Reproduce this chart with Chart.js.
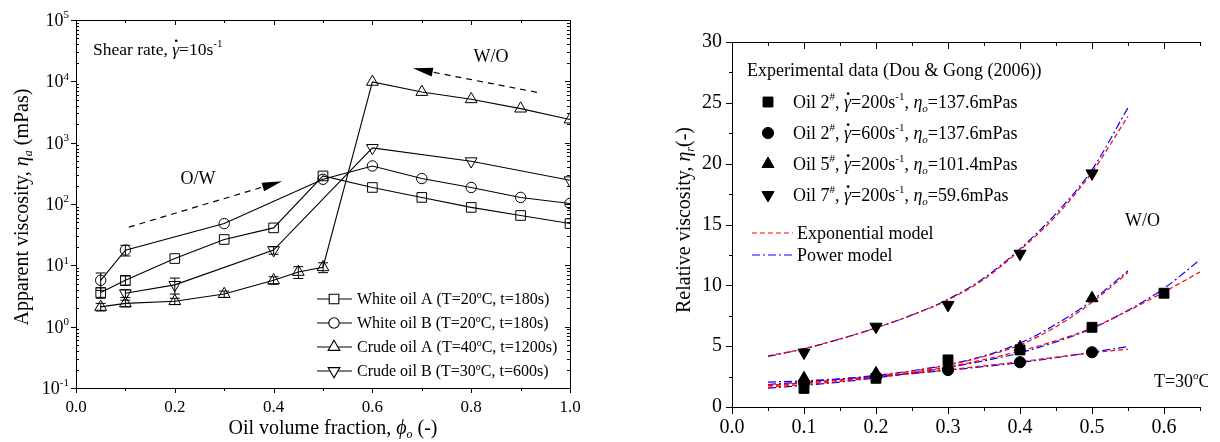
<!DOCTYPE html>
<html>
<head>
<meta charset="utf-8">
<script src="https://cdn.jsdelivr.net/npm/chart.js@4.4.1/dist/chart.umd.min.js"></script>
<style>
  html, body { margin: 0; padding: 0; background: #fff; }
  #wrap { position: relative; width: 1220px; height: 442px; overflow: hidden; }
  canvas { position: absolute; top: 0; }
</style>
</head>
<body>
<div id="wrap">
  <canvas id="leftChart" width="600" height="442" style="left:0"></canvas>
  <canvas id="rightChart" width="588" height="442" style="left:620px"></canvas>
</div>
<script>
// ---- left panel: apparent viscosity vs oil fraction (shear rate 10 1/s)
const phiWhiteA = [0.05, 0.1, 0.2, 0.3, 0.4, 0.5, 0.6, 0.7, 0.8, 0.9, 1.0];
const whiteA    = [3.6, 5.7, 12.9, 26.4, 40.8, 287, 186, 128, 88, 65, 48];
const errWhiteA = [0.7, 1.0, 0, 0, 0, 0, 0, 0, 0, 0, 0];

const phiWhiteB = [0.05, 0.1, 0.3, 0.5, 0.6, 0.7, 0.8, 0.9, 1.0];
const whiteB    = [5.7, 17.7, 48, 253, 417, 260, 186, 128, 102];
const errWhiteB = [1.8, 3.5, 0, 0, 0, 0, 0, 0, 0];

const phiCrudeA = [0.05, 0.1, 0.2, 0.3, 0.4, 0.45, 0.5, 0.6, 0.7, 0.8, 0.9, 1.0];
const crudeA    = [2.1, 2.4, 2.6, 3.4, 5.7, 7.8, 9.3, 9800, 6700, 5100, 3590, 2380];
const errCrudeA = [0.3, 0.3, 0.3, 0.4, 0.8, 1.7, 1.7, 0, 0, 0, 0, 0];

const phiCrudeB = [0.1, 0.2, 0.4, 0.6, 0.8, 1.0];
const crudeB    = [3.5, 4.8, 17.7, 820, 498, 244];
const errCrudeB = [0.5, 1.4, 2.5, 0, 0, 0];

const leftDecades = [0.1, 1, 10, 100, 1000, 10000, 100000];
const leftXMinor = [0.1, 0.3, 0.5, 0.7, 0.9];

// ---- right panel: relative viscosity, data + model fits
const phiOil2a = [0.1, 0.2, 0.3, 0.4, 0.5, 0.6];
const oil2_200 = [1.53, 2.36, 3.87, 4.69, 6.55, 9.35];
const phiOther = [0.1, 0.2, 0.3, 0.4, 0.5];
const oil2_600 = [2.0, 2.49, 3.04, 3.68, 4.5];
const oil5_200 = [2.36, 2.76, 3.4, 4.9, 8.94];
const oil7_200 = [4.47, 6.6, 8.39, 12.6, 19.2];

const phiFit   = [0.05, 0.1, 0.15, 0.2, 0.25, 0.3, 0.35, 0.4, 0.45, 0.5, 0.55];
const phiFitSq = [0.05, 0.1, 0.15, 0.2, 0.25, 0.3, 0.35, 0.4, 0.45, 0.5, 0.55, 0.6, 0.65];
const oil7Exp = [4.2, 4.8, 5.6, 6.5, 7.55, 8.8, 10.5, 12.9, 15.7, 19.3, 23.9];
const oil7Pow = [4.15, 4.78, 5.58, 6.5, 7.57, 8.85, 10.6, 13.0, 15.9, 19.5, 24.6];
const oil5Exp = [1.75, 1.98, 2.25, 2.55, 2.95, 3.45, 4.15, 5.1, 6.6, 8.6, 11.05];
const oil5Pow = [1.85, 2.05, 2.3, 2.6, 2.98, 3.48, 4.2, 5.25, 6.8, 8.75, 11.2];
const oil2bExp = [1.8, 1.98, 2.2, 2.45, 2.75, 3.05, 3.38, 3.72, 4.1, 4.45, 4.75];
const oil2bPow = [2.05, 2.15, 2.32, 2.5, 2.75, 3.02, 3.32, 3.65, 4.05, 4.5, 4.96];
const oil2aExp = [1.62, 1.85, 2.1, 2.45, 2.85, 3.3, 3.9, 4.6, 5.45, 6.5, 7.9, 9.45, 11.1];
const oil2aPow = [1.55, 1.78, 2.05, 2.4, 2.8, 3.25, 3.8, 4.45, 5.35, 6.45, 7.95, 9.75, 12.1];

const rightXTicks = [0, 0.1, 0.2, 0.3, 0.4, 0.5, 0.6];
const rightXMinor = [0.05, 0.15, 0.25, 0.35, 0.45, 0.55, 0.65];
const rightYMinor = [2.5, 7.5, 12.5, 17.5, 22.5, 27.5];

const FONT = 'Liberation Serif';

// text with italic / super / subscript pieces: [text, flags]  i=italic ^=sup _=sub d=dot above
function rich(ctx, parts, x, y, size, align) {
  const fontFor = f => {
    const small = f.includes('^') || f.includes('_');
    return (f.includes('i') ? 'italic ' : '') + (small ? Math.round(size * 0.62) : size) + 'px "' + FONT + '"';
  };
  let total = 0;
  const widths = parts.map(([t, f]) => { ctx.font = fontFor(f); const w = ctx.measureText(t).width; total += w; return w; });
  let cx = align === 'center' ? x - total / 2 : align === 'right' ? x - total : x;
  const base = y + size * 0.33;
  ctx.textAlign = 'left';
  ctx.textBaseline = 'alphabetic';
  ctx.fillStyle = '#000';
  parts.forEach(([t, f], i) => {
    ctx.font = fontFor(f);
    let by = base;
    if (f.includes('^')) by = base - size * 0.42;
    if (f.includes('_')) by = base + size * 0.22;
    ctx.fillText(t, cx, by);
    if (f.includes('d')) {
      ctx.beginPath();
      ctx.arc(cx + widths[i] * 0.58, base - size * 0.8, size * 0.075, 0, Math.PI * 2);
      ctx.fill();
    }
    cx += widths[i];
  });
}

function arrow(ctx, x1, y1, x2, y2) {
  const a = Math.atan2(y2 - y1, x2 - x1), L = 20, W = 4.5;
  const bx = x2 - L * Math.cos(a), by = y2 - L * Math.sin(a);
  ctx.save();
  ctx.strokeStyle = '#000'; ctx.lineWidth = 1.2; ctx.setLineDash([6, 5]);
  ctx.beginPath(); ctx.moveTo(x1, y1); ctx.lineTo(bx, by); ctx.stroke();
  ctx.setLineDash([]); ctx.fillStyle = '#000';
  ctx.beginPath();
  ctx.moveTo(x2, y2);
  ctx.lineTo(bx - W * Math.sin(a), by + W * Math.cos(a));
  ctx.lineTo(bx + W * Math.sin(a), by - W * Math.cos(a));
  ctx.closePath(); ctx.fill();
  ctx.restore();
}

function hTicks(ctx, scale, vals, y0, len) {
  vals.forEach(v => {
    const p = Math.round(scale.getPixelForValue(v)) + 0.5;
    ctx.beginPath(); ctx.moveTo(p, y0); ctx.lineTo(p, y0 + len); ctx.stroke();
  });
}
function vTicks(ctx, scale, vals, x0, len) {
  vals.forEach(v => {
    const p = Math.round(scale.getPixelForValue(v)) + 0.5;
    ctx.beginPath(); ctx.moveTo(x0, p); ctx.lineTo(x0 + len, p); ctx.stroke();
  });
}

const errorBars = {
  id: 'errorBars',
  beforeDatasetsDraw(chart) {
    const ctx = chart.ctx, ys = chart.scales.y;
    ctx.save(); ctx.strokeStyle = '#000'; ctx.lineWidth = 1;
    chart.data.datasets.forEach((ds, di) => {
      if (!ds.errors) return;
      const meta = chart.getDatasetMeta(di);
      ds.data.forEach((pt, i) => {
        const e = ds.errors[i];
        if (!e) return;
        const px = meta.data[i].x;
        const top = ys.getPixelForValue(pt.y + e), bot = ys.getPixelForValue(Math.max(pt.y - e, 0.11));
        ctx.beginPath();
        ctx.moveTo(px, top); ctx.lineTo(px, bot);
        ctx.moveTo(px - 5, top); ctx.lineTo(px + 5, top);
        ctx.moveTo(px - 5, bot); ctx.lineTo(px + 5, bot);
        ctx.stroke();
      });
    });
    ctx.restore();
  }
};

const leftSeries = [
  { xs: phiWhiteA, ys: whiteA, err: errWhiteA, style: 'rect', rot: 0, r: 6.8,
    text: [['White oil A (T=20', ''], ['o', '^'], ['C, t=180s)', '']] },
  { xs: phiWhiteB, ys: whiteB, err: errWhiteB, style: 'circle', rot: 0, r: 5.2,
    text: [['White oil B (T=20', ''], ['o', '^'], ['C, t=180s)', '']] },
  { xs: phiCrudeA, ys: crudeA, err: errCrudeA, style: 'triangle', rot: 0, r: 6.8,
    text: [['Crude oil A (T=40', ''], ['o', '^'], ['C, t=1200s)', '']] },
  { xs: phiCrudeB, ys: crudeB, err: errCrudeB, style: 'triangle', rot: 180, r: 6.8,
    text: [['Crude oil B (T=30', ''], ['o', '^'], ['C, t=600s)', '']] }
];

const leftDecor = {
  id: 'leftDecor',
  afterDraw(chart) {
    const ctx = chart.ctx, ca = chart.chartArea, xs = chart.scales.x, ys = chart.scales.y;
    ctx.save();
    ctx.strokeStyle = '#000'; ctx.lineWidth = 1;
    ctx.strokeRect(ca.left + 0.5, ca.top + 0.5, ca.right - ca.left, ca.bottom - ca.top);
    const majors = xs.ticks.map(t => t.value);
    hTicks(ctx, xs, majors, ca.bottom, 5);
    hTicks(ctx, xs, leftXMinor, ca.bottom, 3);
    hTicks(ctx, xs, majors, ca.top, 5);
    hTicks(ctx, xs, leftXMinor, ca.top, 3);
    const minors = [];
    leftDecades.slice(0, -1).forEach(d => { for (let k = 2; k <= 9; k++) minors.push(d * k); });
    vTicks(ctx, ys, leftDecades, ca.left, -5);
    vTicks(ctx, ys, minors, ca.left, 3);
    vTicks(ctx, ys, leftDecades, ca.right, -5);
    vTicks(ctx, ys, minors, ca.right, -3);
    leftDecades.forEach(d => {
      rich(ctx, [['10', ''], [String(Math.round(Math.log10(d))), '^']], ca.left - 7, ys.getPixelForValue(d), 18, 'right');
    });

    // axis titles
    rich(ctx, [['Oil volume fraction, ', ''], ['\u03D5', 'i'], ['o', 'i_'], [' (-)', '']], 333, 427, 20, 'center');
    ctx.save(); ctx.translate(21, 207); ctx.rotate(-Math.PI / 2);
    rich(ctx, [['Apparent viscosity, ', ''], ['\u03B7', 'i'], ['a', 'i_'], [' (mPas)', '']], 0, 0, 20, 'center');
    ctx.restore();

    // annotations
    rich(ctx, [['Shear rate, ', ''], ['\u03B3', 'id'], ['=10s', ''], ['-1', '^']], ca.left + 17, ca.top + 29, 17.5, 'left');
    arrow(ctx, xs.getPixelForValue(0.107), ys.getPixelForValue(42), xs.getPixelForValue(0.417), ys.getPixelForValue(235));
    arrow(ctx, xs.getPixelForValue(0.933), ys.getPixelForValue(6620), xs.getPixelForValue(0.682), ys.getPixelForValue(16300));
    rich(ctx, [['O/W', '']], xs.getPixelForValue(0.247), ys.getPixelForValue(263), 18, 'center');
    rich(ctx, [['W/O', '']], xs.getPixelForValue(0.84), ys.getPixelForValue(26300), 18, 'center');

    // legend
    leftSeries.forEach((s, i) => {
      const y = ca.top + 279 + i * 24;
      ctx.strokeStyle = '#000'; ctx.lineWidth = 1.1;
      ctx.beginPath(); ctx.moveTo(ca.left + 241, y); ctx.lineTo(ca.left + 276, y); ctx.stroke();
      ctx.fillStyle = '#fff';
      Chart.helpers.drawPoint(ctx, { pointStyle: s.style, rotation: s.rot, radius: s.r, borderWidth: 1 }, ca.left + 258, y);
      rich(ctx, s.text, ca.left + 281, y, 16, 'left');
    });
    ctx.restore();
  }
};

new Chart(document.getElementById('leftChart'), {
  type: 'scatter',
  data: {
    datasets: leftSeries.map(s => ({
      data: s.xs.map((x, i) => ({ x: x, y: s.ys[i] })),
      errors: s.err,
      showLine: true,
      borderColor: '#000',
      borderWidth: 1.1,
      pointStyle: s.style,
      pointRotation: s.rot,
      pointRadius: s.r,
      pointHoverRadius: s.r,
      pointBackgroundColor: 'rgba(0,0,0,0)',
      pointBorderColor: '#000',
      pointBorderWidth: 1
    }))
  },
  options: {
    responsive: false,
    animation: false,
    devicePixelRatio: 1,
    layout: { padding: { left: 0, top: 20, right: 30, bottom: 0 } },
    plugins: { legend: { display: false }, tooltip: { enabled: false } },
    scales: {
      x: {
        type: 'linear', min: 0, max: 1,
        grid: { display: false, drawTicks: false }, border: { display: false },
        ticks: { stepSize: 0.2, padding: 9, color: '#000', font: { family: FONT, size: 17 },
                 callback: v => v.toFixed(1), maxRotation: 0, autoSkip: false },
        afterFit: s => { s.height = 54; }
      },
      y: {
        type: 'logarithmic', min: 0.1, max: 100000,
        grid: { display: false, drawTicks: false }, border: { display: false },
        ticks: { display: false },
        afterFit: s => { s.width = 76; }
      }
    }
  },
  plugins: [errorBars, leftDecor]
});

// ---- right panel
const rightPoints = [
  { xs: phiOil2a, ys: oil2_200, style: 'rect', rot: 0, r: 7,
    text: [['Oil 2', ''], ['#', '^'], [', ', ''], ['\u03B3', 'id'], ['=200s', ''], ['-1', '^'], [', ', ''], ['\u03B7', 'i'], ['o', 'i_'], ['=137.6mPas', '']] },
  { xs: phiOther, ys: oil2_600, style: 'circle', rot: 0, r: 5.6,
    text: [['Oil 2', ''], ['#', '^'], [', ', ''], ['\u03B3', 'id'], ['=600s', ''], ['-1', '^'], [', ', ''], ['\u03B7', 'i'], ['o', 'i_'], ['=137.6mPas', '']] },
  { xs: phiOther, ys: oil5_200, style: 'triangle', rot: 0, r: 7,
    text: [['Oil 5', ''], ['#', '^'], [', ', ''], ['\u03B3', 'id'], ['=200s', ''], ['-1', '^'], [', ', ''], ['\u03B7', 'i'], ['o', 'i_'], ['=101.4mPas', '']] },
  { xs: phiOther, ys: oil7_200, style: 'triangle', rot: 180, r: 7,
    text: [['Oil 7', ''], ['#', '^'], [', ', ''], ['\u03B3', 'id'], ['=200s', ''], ['-1', '^'], [', ', ''], ['\u03B7', 'i'], ['o', 'i_'], ['=59.6mPas', '']] }
];

const EXP_STYLE = { color: '#ff0000', dash: [5, 3] };
const POW_STYLE = { color: '#0000ff', dash: [8, 3, 2, 3] };
const rightFits = [
  { xs: phiFitSq, ys: oil2aExp, st: EXP_STYLE }, { xs: phiFitSq, ys: oil2aPow, st: POW_STYLE },
  { xs: phiFit, ys: oil2bExp, st: EXP_STYLE }, { xs: phiFit, ys: oil2bPow, st: POW_STYLE },
  { xs: phiFit, ys: oil5Exp, st: EXP_STYLE }, { xs: phiFit, ys: oil5Pow, st: POW_STYLE },
  { xs: phiFit, ys: oil7Exp, st: EXP_STYLE }, { xs: phiFit, ys: oil7Pow, st: POW_STYLE }
];

const rightDecor = {
  id: 'rightDecor',
  afterDraw(chart) {
    const ctx = chart.ctx, ca = chart.chartArea, xs = chart.scales.x, ys = chart.scales.y;
    ctx.save();
    ctx.strokeStyle = '#000'; ctx.lineWidth = 1;
    ctx.beginPath();
    ctx.moveTo(ca.left + 0.5, ca.top + 0.5); ctx.lineTo(ca.left + 0.5, ca.bottom + 0.5);
    ctx.lineTo(ca.right, ca.bottom + 0.5);
    ctx.moveTo(ca.left, ca.top + 0.5); ctx.lineTo(ca.right, ca.top + 0.5);
    ctx.stroke();
    hTicks(ctx, xs, rightXTicks, ca.bottom, 7);
    hTicks(ctx, xs, rightXMinor, ca.bottom, 4);
    hTicks(ctx, xs, rightXTicks, ca.top, 7);
    hTicks(ctx, xs, rightXMinor, ca.top, 4);
    const yMaj = ys.ticks.map(t => t.value);
    vTicks(ctx, ys, yMaj, ca.left, -6);
    vTicks(ctx, ys, rightYMinor, ca.left, -3);

    ctx.save(); ctx.translate(63, 220); ctx.rotate(-Math.PI / 2);
    rich(ctx, [['Relative viscosity, ', ''], ['\u03B7', 'i'], ['r', 'i_'], ['(-)', '']], 0, 0, 20, 'center');
    ctx.restore();

    // legend
    rich(ctx, [['Experimental data (Dou & Gong (2006))', '']], ca.left + 15, ca.top + 28, 18, 'left');
    rightPoints.forEach((s, i) => {
      const y = ca.top + 60 + i * 31;
      ctx.fillStyle = '#000';
      Chart.helpers.drawPoint(ctx, { pointStyle: s.style, rotation: s.rot, radius: s.r, borderWidth: 1 }, ca.left + 36, y);
      rich(ctx, s.text, ca.left + 61, y, 18, 'left');
    });
    [[EXP_STYLE, 'Exponential model'], [POW_STYLE, 'Power model']].forEach(([st, label], i) => {
      const y = ca.top + 191 + i * 22;
      ctx.strokeStyle = st.color; ctx.lineWidth = 1.2; ctx.setLineDash(st.dash);
      ctx.beginPath(); ctx.moveTo(ca.left + 20, y); ctx.lineTo(ca.left + 61, y); ctx.stroke();
      ctx.setLineDash([]);
      rich(ctx, [[label, '']], ca.left + 65, y, 18, 'left');
    });

    rich(ctx, [['W/O', '']], xs.getPixelForValue(0.57), ys.getPixelForValue(15.4), 18, 'center');
    rich(ctx, [['T=30', ''], ['o', '^'], ['C', '']], xs.getPixelForValue(0.586), ys.getPixelForValue(2.14), 18, 'left');
    ctx.restore();
  }
};

new Chart(document.getElementById('rightChart'), {
  type: 'scatter',
  data: {
    datasets: rightPoints.map(s => ({
      data: s.xs.map((x, i) => ({ x: x, y: s.ys[i] })),
      showLine: false,
      pointStyle: s.style,
      pointRotation: s.rot,
      pointRadius: s.r,
      pointHoverRadius: s.r,
      pointBackgroundColor: '#000',
      pointBorderColor: '#000',
      pointBorderWidth: 1
    })).concat(rightFits.map(f => ({
      data: f.xs.map((x, i) => ({ x: x, y: f.ys[i] })),
      showLine: true,
      pointRadius: 0,
      borderColor: f.st.color,
      borderDash: f.st.dash,
      borderWidth: 1.2,
      cubicInterpolationMode: 'monotone'
    })))
  },
  options: {
    responsive: false,
    animation: false,
    devicePixelRatio: 1,
    layout: { padding: { left: 0, top: 42, right: 0, bottom: 0 } },
    plugins: { legend: { display: false }, tooltip: { enabled: false } },
    scales: {
      x: {
        type: 'linear', min: 0, max: 0.65,
        grid: { display: false, drawTicks: false }, border: { display: false },
        afterBuildTicks: s => { s.ticks = rightXTicks.map(v => ({ value: v })); },
        ticks: { padding: 9, color: '#000', font: { family: FONT, size: 20 },
                 callback: v => v.toFixed(1), maxRotation: 0, autoSkip: false },
        afterFit: s => { s.height = 35; }
      },
      y: {
        type: 'linear', min: 0, max: 30,
        grid: { display: false, drawTicks: false }, border: { display: false },
        ticks: { stepSize: 5, padding: 10, color: '#000', font: { family: FONT, size: 20 } },
        afterFit: s => { s.width = 112; }
      }
    }
  },
  plugins: [rightDecor]
});
</script>
</body>
</html>
